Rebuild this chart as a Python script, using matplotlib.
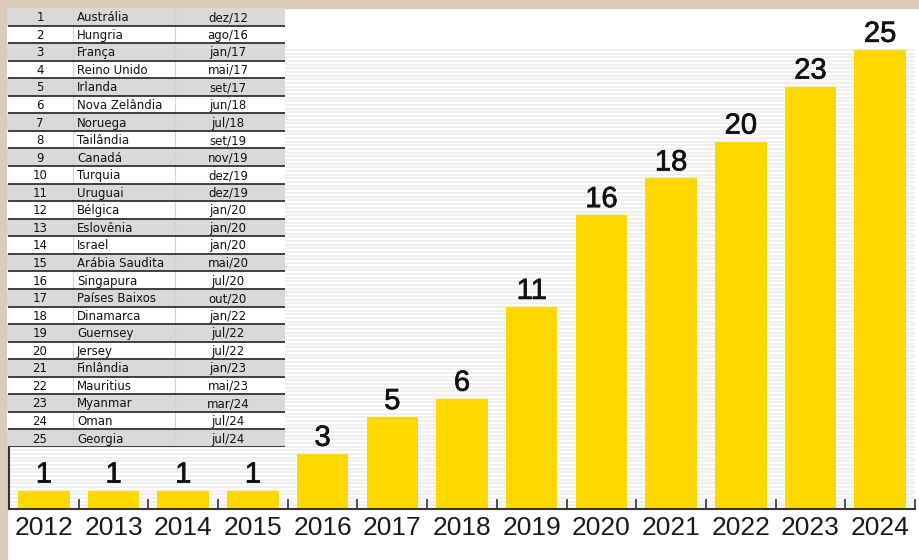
import numpy as np
import matplotlib.pyplot as plt
import matplotlib.patheffects as pe
from matplotlib.patches import Rectangle
from matplotlib.ticker import MultipleLocator

years = ["2012", "2013", "2014", "2015", "2016", "2017", "2018",
         "2019", "2020", "2021", "2022", "2023", "2024"]
counts = [1, 1, 1, 1, 3, 5, 6, 11, 16, 18, 20, 23, 25]

ranks = list(range(1, 26))
countries = ["Austrália", "Hungria", "França", "Reino Unido", "Irlanda",
             "Nova Zelândia", "Noruega", "Tailândia", "Canadá", "Turquia",
             "Uruguai", "Bélgica", "Eslovênia", "Israel", "Arábia Saudita",
             "Singapura", "Países Baixos", "Dinamarca", "Guernsey", "Jersey",
             "Finlândia", "Mauritius", "Myanmar", "Oman", "Georgia"]
dates = ["dez/12", "ago/16", "jan/17", "mai/17", "set/17", "jun/18",
         "jul/18", "set/19", "nov/19", "dez/19", "dez/19", "jan/20",
         "jan/20", "jan/20", "mai/20", "jul/20", "out/20", "jan/22",
         "jul/22", "jul/22", "jan/23", "mai/23", "mar/24", "jul/24", "jul/24"]

W, H = 920, 560
fig = plt.figure(figsize=(W / 100, H / 100), dpi=100)
fig.patch.set_facecolor("white")

# beige frame on left and top
beige = "#d9cdb9"
fig.patches.append(Rectangle((0, 0), 7 / W, 1, transform=fig.transFigure,
                             color=beige, zorder=0))
fig.patches.append(Rectangle((0, 1 - 8 / H), 1, 8 / H, transform=fig.transFigure,
                             color=beige, zorder=0))

rect_ax = [9 / W, (H - 509) / H, (915 - 9) / W, (509 - 49) / H]

# background stripes on their own axes so they don't cover the ticks
bg = fig.add_axes(rect_ax, zorder=0)
bg.set_ylim(0, 25.05)
bg.yaxis.set_minor_locator(MultipleLocator(0.2))
bg.set_xticks([])
bg.set_yticks([])
bg.tick_params(which="both", length=0)
bg.grid(which="minor", axis="y", color="#f0f0f0", linewidth=1.5)
for s in bg.spines.values():
    s.set_visible(False)

# main bar chart
ax = fig.add_axes(rect_ax, zorder=1)
ax.patch.set_visible(False)
x = np.arange(len(years))
bars = ax.bar(x, counts, width=0.74, color="#ffd800", zorder=2)
ax.set_xlim(-0.5, len(years) - 0.5)
ax.set_ylim(0, 25.05)

for rect, v in zip(bars, counts):
    ax.annotate(str(v), (rect.get_x() + rect.get_width() / 2, v),
                xytext=(0, 1.5), textcoords="offset points",
                ha="center", va="bottom", fontsize=21,
                family="Liberation Sans", color="#111111", clip_on=False,
                path_effects=[pe.withStroke(linewidth=0.5, foreground="#111111")])

ax.set_xticks(x)
ax.set_xticklabels(years, fontsize=19, family="Liberation Sans", color="#1a1a1a")
ax.tick_params(axis="x", which="major", length=0, pad=5)
ax.set_xticks(np.arange(len(years)) + 0.5, minor=True)
ax.tick_params(axis="x", which="minor", direction="in", length=7,
               width=1.2, color="#333333")
ax.set_yticks([])

for side in ["top", "right"]:
    ax.spines[side].set_visible(False)
ax.spines["bottom"].set_color("#333333")
ax.spines["bottom"].set_linewidth(1.5)
ax.spines["left"].set_color("#333333")
ax.spines["left"].set_linewidth(1.5)

# ranking table drawn over the top-left of the chart
tx0, tx1, ty0, ty1 = 7, 285, 8, 447
tab = fig.add_axes([tx0 / W, (H - ty1) / H, (tx1 - tx0) / W, (ty1 - ty0) / H],
                   zorder=2)
tab.set_xlim(tx0, tx1)
tab.set_ylim(len(ranks), 0)
tab.axis("off")
tab.patch.set_visible(False)
for i, (r, c, d) in enumerate(zip(ranks, countries, dates)):
    shade = "#d9d9d9" if i % 2 == 0 else "white"
    tab.add_patch(Rectangle((tx0, i), tx1 - tx0, 1, color=shade, zorder=1))
    tab.text(40, i + 0.55, str(r), ha="center", va="center", fontsize=8.5,
             family="DejaVu Sans", color="#111111", zorder=3)
    tab.text(77, i + 0.55, c, ha="left", va="center", fontsize=8.5,
             family="DejaVu Sans", color="#111111", zorder=3)
    tab.text(228, i + 0.55, d, ha="center", va="center", fontsize=8.5,
             family="DejaVu Sans", color="#111111", zorder=3)
for xs in [73, 175]:
    tab.vlines(xs, 0, len(ranks), color="#d4d4d4", linewidth=0.8, zorder=2)
tab.hlines(np.arange(1, len(ranks) + 1), tx0 + 1, tx1, color="#222222",
           linewidth=1.2, zorder=2)

fig.savefig("out.png", dpi=100)
